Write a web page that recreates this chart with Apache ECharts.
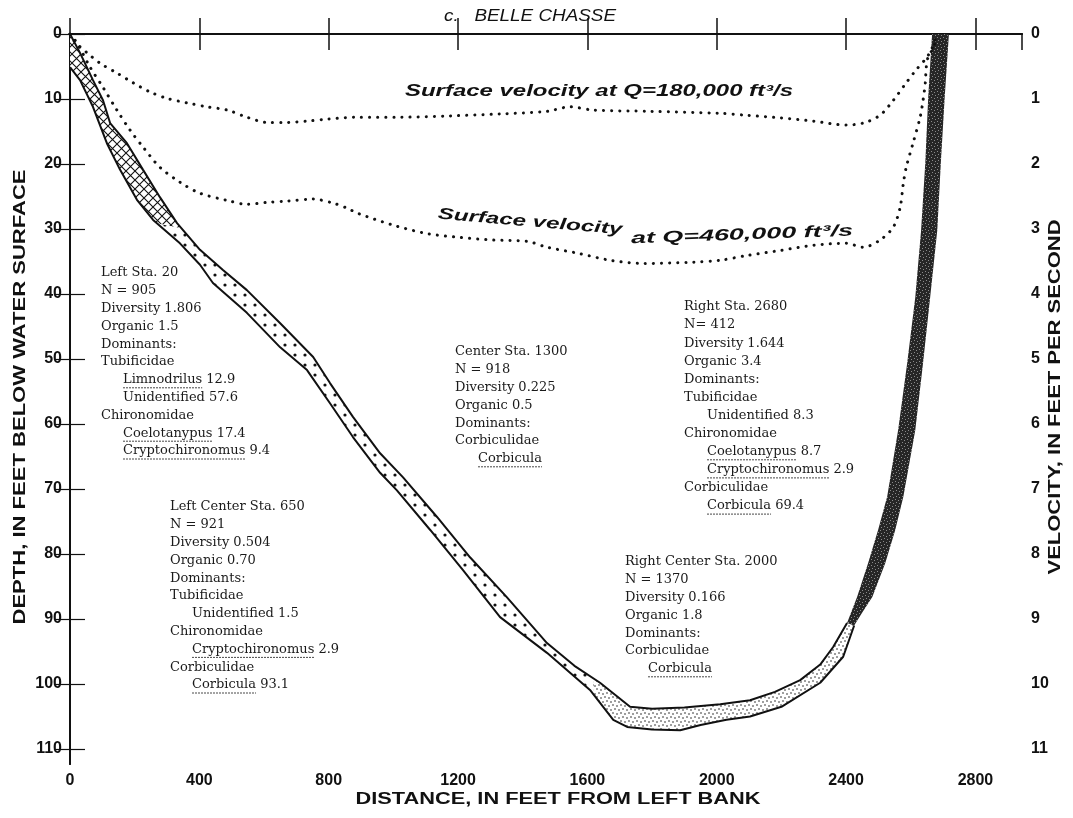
<!DOCTYPE html>
<html>
<head>
<meta charset="utf-8">
<script src="https://cdn.jsdelivr.net/npm/echarts@6/dist/echarts.min.js"></script>
<style>
  html, body { margin: 0; padding: 0; background: #fff; }
  #chart { width: 1073px; height: 818px; }
</style>
</head>
<body>
<div id="chart"></div>
<script>
// ---- Channel cross-section, Belle Chasse: distance (ft from left bank), depth (ft) ----
// Shallow edge of the sampled bottom layer
const bedUpper = [[0,0],[31,2.9],[71,7.1],[102,10.2],[124,13.7],[176,16.8],[226,20.9],[278,25.1],[331,29.1],[402,33.2],[473,36.3],[547,39.4],[650,44.5],[752,49.7],[804,53.7],[875,58.9],[959,64.5],[1030,68.2],[1135,74.3],[1237,80.5],[1350,86.6],[1475,93.7],[1560,97.2],[1639,99.8],[1732,103.5],[1800,103.8],[1900,103.6],[2011,103.1],[2103,102.5],[2180,101.2],[2258,99.4],[2320,97.0],[2360,94.3],[2403,90.6]];
// Deep edge of the sampled bottom layer
const bedLower = [[0,5.1],[31,7.1],[71,11.2],[114,16.8],[155,20.9],[207,25.5],[257,28.6],[340,32.2],[402,35.5],[442,38.3],[547,42.9],[650,48.2],[733,51.7],[804,56.8],[875,62.0],[959,67.5],[1011,70.2],[1114,76.3],[1216,82.5],[1330,89.7],[1475,95.2],[1608,100.9],[1680,105.5],[1723,106.6],[1800,107.0],[1887,107.1],[1950,106.3],[2030,105.5],[2103,105.0],[2200,103.5],[2320,99.8],[2391,95.8],[2425,91.0]];
// Right-bank layer (inner and outer edges)
const bankInner = [[2403,90.6],[2434,86.6],[2468,81.4],[2499,76.3],[2527,71.2],[2561,60.9],[2589,50.6],[2614,40.5],[2632,30.2],[2645,19.8],[2654,9.7],[2666,0]];
const bankOuter = [[2425,91.0],[2450,89.0],[2481,86.6],[2521,81.4],[2552,76.3],[2577,71.2],[2614,60.9],[2638,50.6],[2660,40.5],[2682,30.2],[2693,19.8],[2705,9.7],[2718,0]];
// Limits of the bottom-material zones along the section (ft)
const hatchEndUpper = 345, hatchEndLower = 270, stippleStart = 1620;

// ---- Surface velocity (ft/s) across the section ----
const vel180k = [[0,0],[15,0.12],[53,0.29],[93,0.45],[145,0.60],[195,0.75],[247,0.89],[300,0.99],[362,1.06],[424,1.12],[486,1.17],[547,1.28],[609,1.36],[671,1.36],[733,1.34],[795,1.31],[891,1.28],[1021,1.28],[1175,1.26],[1330,1.23],[1475,1.19],[1547,1.12],[1618,1.17],[1794,1.19],[2011,1.22],[2091,1.25],[2196,1.29],[2298,1.34],[2400,1.40],[2453,1.37],[2505,1.25],[2546,1.02],[2586,0.75],[2617,0.55],[2648,0.37],[2663,0.25],[2675,0.09]];
const vel460k = [[0,0],[22,0.14],[62,0.51],[102,0.82],[145,1.17],[186,1.48],[226,1.74],[278,2.05],[340,2.28],[402,2.45],[486,2.56],[547,2.62],[609,2.59],[671,2.57],[752,2.54],[813,2.60],[857,2.68],[891,2.76],[999,2.94],[1104,3.07],[1206,3.13],[1308,3.17],[1414,3.19],[1475,3.28],[1568,3.37],[1670,3.48],[1772,3.53],[1927,3.51],[2011,3.48],[2091,3.41],[2196,3.33],[2298,3.25],[2400,3.22],[2453,3.28],[2505,3.17],[2546,2.97],[2567,2.67],[2577,2.30],[2586,2.05],[2607,1.68],[2629,1.28],[2638,1.02],[2645,0.75],[2648,0.51],[2654,0.35],[2669,0.22],[2680,0.05]];

// ---- Axis ranges and ticks ----
const distMax = 2944, distStep = 400;
const depthMax = 112.3, depthStep = 10;
const velMax = 11.23, velStep = 1;

// ---- Texts ----
const titleText = 'c.   BELLE CHASSE';
const xName = 'DISTANCE, IN FEET FROM LEFT BANK';
const yLeftName = 'DEPTH, IN FEET BELOW WATER SURFACE';
const yRightName = 'VELOCITY, IN FEET PER SECOND';
const label180k = 'Surface velocity at Q=180,000 ft\u00B3/s';
const label460kA = 'Surface velocity';
const label460kB = 'at Q=460,000 ft\u00B3/s';

// Station notes: [text, level, underlined taxon]
const stationLeft = [
  ['Left Sta. 20',0],['N = 905',0],['Diversity 1.806',0],['Organic 1.5',0],['Dominants:',0],
  ['Tubificidae',0],['Limnodrilus 12.9',1,'Limnodrilus'],['Unidentified 57.6',1],
  ['Chironomidae',0],['Coelotanypus 17.4',1,'Coelotanypus'],['Cryptochironomus 9.4',1,'Cryptochironomus']
];
const stationLeftCenter = [
  ['Left Center Sta. 650',0],['N = 921',0],['Diversity 0.504',0],['Organic 0.70',0],['Dominants:',0],
  ['Tubificidae',0],['Unidentified 1.5',1],['Chironomidae',0],['Cryptochironomus 2.9',1,'Cryptochironomus'],
  ['Corbiculidae',0],['Corbicula 93.1',1,'Corbicula']
];
const stationCenter = [
  ['Center Sta. 1300',0],['N = 918',0],['Diversity 0.225',0],['Organic 0.5',0],['Dominants:',0],
  ['Corbiculidae',0],['Corbicula',1,'Corbicula']
];
const stationRight = [
  ['Right Sta. 2680',0],['N= 412',0],['Diversity 1.644',0],['Organic 3.4',0],['Dominants:',0],
  ['Tubificidae',0],['Unidentified 8.3',1],['Chironomidae',0],['Coelotanypus 8.7',1,'Coelotanypus'],
  ['Cryptochironomus 2.9',1,'Cryptochironomus'],['Corbiculidae',0],['Corbicula 69.4',1,'Corbicula']
];
const stationRightCenter = [
  ['Right Center Sta. 2000',0],['N = 1370',0],['Diversity 0.166',0],['Organic 1.8',0],['Dominants:',0],
  ['Corbiculidae',0],['Corbicula',1,'Corbicula']
];

// ---- Layout ----
const grid = { left: 70, right: 51, top: 34, bottom: 54 };
const noteFont = '13px "DejaVu Serif"';
const noteBlocks = [
  { lines: stationLeft,        x: 101, y: 273, lh: 17.8, indent: 22 },
  { lines: stationLeftCenter,  x: 170, y: 507, lh: 17.8, indent: 22 },
  { lines: stationCenter,      x: 455, y: 352, lh: 17.8, indent: 23 },
  { lines: stationRight,       x: 684, y: 307, lh: 18.1, indent: 23 },
  { lines: stationRightCenter, x: 625, y: 562, lh: 17.8, indent: 23 }
];

// ---- Helpers ----
const measureCtx = document.createElement('canvas').getContext('2d');
function textWidth(str, font) { measureCtx.font = font; return measureCtx.measureText(str).width; }

// Text stretched along its baseline to a given length
function stretchedText(str, font, cx, cy, targetW, rotation) {
  const w = textWidth(str, font);
  return {
    type: 'text', x: cx, y: cy, rotation: rotation || 0, scaleX: targetW / w, silent: true, z: 10,
    style: { text: str, font: font, fill: '#111', align: 'center', verticalAlign: 'middle' }
  };
}

// Part of a polyline between two distances, with interpolated end points
function sliceLine(line, x0, x1) {
  const lerp = (a, b, x) => [x, a[1] + (b[1] - a[1]) * (x - a[0]) / (b[0] - a[0])];
  const out = line.filter(p => p[0] >= x0 && p[0] <= x1);
  for (let i = 0; i < line.length - 1; i++) {
    const a = line[i], b = line[i + 1];
    if (a[0] < x0 && b[0] > x0) out.unshift(lerp(a, b, x0));
    if (a[0] < x1 && b[0] > x1) out.push(lerp(a, b, x1));
  }
  return out;
}
function bandPolygon(upper, lower) { return upper.concat(lower.slice().reverse()); }

function makePattern(size, draw) {
  const c = document.createElement('canvas');
  c.width = size; c.height = size;
  const g = c.getContext('2d');
  draw(g, size);
  return { type: 'pattern', image: c, repeat: 'repeat' };
}
const hatchFill = makePattern(9, (g, s) => {
  g.fillStyle = '#fff'; g.fillRect(0, 0, s, s);
  g.strokeStyle = '#111'; g.lineWidth = 1.1;
  g.beginPath(); g.moveTo(-1, -1); g.lineTo(s + 1, s + 1); g.moveTo(-1, s + 1); g.lineTo(s + 1, -1); g.stroke();
});
const sparseDotFill = makePattern(10, (g, s) => {
  g.fillStyle = '#fff'; g.fillRect(0, 0, s, s);
  g.fillStyle = '#111'; g.beginPath(); g.arc(5, 5, 1.6, 0, Math.PI * 2); g.fill();
});
const stippleFill = makePattern(8, (g, s) => {
  g.fillStyle = '#fff'; g.fillRect(0, 0, s, s);
  g.fillStyle = '#222';
  [[1,2],[5,1],[3,6],[7,5]].forEach(p => { g.beginPath(); g.arc(p[0], p[1], 0.8, 0, Math.PI * 2); g.fill(); });
});
const darkFill = makePattern(6, (g, s) => {
  g.fillStyle = '#262626'; g.fillRect(0, 0, s, s);
  g.fillStyle = '#8a8a8a';
  [[1,1],[4,2],[2,4],[5,5]].forEach(p => g.fillRect(p[0], p[1], 1, 1));
});

function bandSeries(name, poly, fill) {
  return {
    type: 'custom', name: name, coordinateSystem: 'cartesian2d', xAxisIndex: 0, yAxisIndex: 0,
    clip: false, silent: true, z: 1, data: [poly[0]],
    renderItem: (params, api) => ({
      type: 'polygon',
      shape: { points: poly.map(p => api.coord(p)) },
      style: { fill: fill, stroke: null }
    })
  };
}

// Bottom-material zones
const hatchPoly = bandPolygon(sliceLine(bedUpper, 0, hatchEndUpper), sliceLine(bedLower, 0, hatchEndLower));
const sparsePoly = bandPolygon(sliceLine(bedUpper, hatchEndUpper, stippleStart), sliceLine(bedLower, hatchEndLower, stippleStart));
const stipplePoly = bandPolygon(sliceLine(bedUpper, stippleStart, 3000), sliceLine(bedLower, stippleStart, 3000));
const bankPoly = bandPolygon(bankInner, bankOuter);

// ---- Graphic texts ----
const graphics = [];
graphics.push(stretchedText(titleText, 'italic 16px "Liberation Sans"', 530, 17, 172, 0));
graphics.push(stretchedText(xName, 'bold 16px "Liberation Sans"', 558, 800, 405, 0));
graphics.push(stretchedText(yLeftName, 'bold 16px "Liberation Sans"', 21, 397, 455, Math.PI / 2));
graphics.push(stretchedText(yRightName, 'bold 16px "Liberation Sans"', 1056, 397, 355, Math.PI / 2));
graphics.push(stretchedText(label180k, 'bold italic 16px "Liberation Sans"', 599, 92, 388, 0));
graphics.push(stretchedText(label460kA, 'bold italic 16px "Liberation Sans"', 530, 222, 185, -0.085));
graphics.push(stretchedText(label460kB, 'bold italic 16px "Liberation Sans"', 742, 235, 222, 0.035));

noteBlocks.forEach(b => {
  b.lines.forEach((ln, i) => {
    const x = b.x + (ln[1] ? b.indent : 0);
    const y = b.y + i * b.lh;
    graphics.push({ type: 'text', x: x, y: y, silent: true, z: 10,
      style: { text: ln[0], font: noteFont, fill: '#1a1a1a', align: 'left', verticalAlign: 'middle' } });
    if (ln[2]) {
      const w = textWidth(ln[2], noteFont);
      graphics.push({ type: 'line', silent: true, z: 10,
        shape: { x1: x, y1: y + 8, x2: x + w, y2: y + 8 },
        style: { stroke: '#333', lineWidth: 0.9, lineDash: [2, 1] } });
    }
  });
});

// ---- Chart ----
const axisFont = { fontFamily: 'Liberation Sans', fontWeight: 'bold', fontSize: 16, color: '#111' };
const axisLineStyle = { show: true, lineStyle: { color: '#111', width: 2 } };
const plainNumber = v => String(v);

const chart = echarts.init(document.getElementById('chart'), null, { renderer: 'canvas' });
chart.setOption({
  backgroundColor: '#fff',
  animation: false,
  grid: grid,
  xAxis: [
    { type: 'value', position: 'bottom', min: 0, max: distMax, interval: distStep,
      axisLine: axisLineStyle, splitLine: { show: false },
      axisTick: { inside: true, length: 16, lineStyle: { color: '#111', width: 1.5 } },
      axisLabel: Object.assign({ margin: 9, showMaxLabel: false, formatter: plainNumber }, axisFont) },
    { type: 'value', position: 'top', min: 0, max: distMax, interval: distStep,
      axisLine: axisLineStyle, splitLine: { show: false },
      axisTick: { inside: true, length: 16, lineStyle: { color: '#111', width: 1.5 } },
      axisLabel: { show: false } }
  ],
  yAxis: [
    { type: 'value', position: 'left', inverse: true, min: 0, max: depthMax, interval: depthStep,
      axisLine: axisLineStyle, splitLine: { show: false },
      axisTick: { inside: true, length: 15, lineStyle: { color: '#111', width: 1.2 } },
      axisLabel: Object.assign({ margin: 8, showMaxLabel: false, formatter: plainNumber }, axisFont) },
    { type: 'value', position: 'right', inverse: true, min: 0, max: velMax, interval: velStep,
      axisLine: axisLineStyle, splitLine: { show: false },
      axisTick: { inside: true, length: 15, lineStyle: { color: '#111', width: 1.2 } },
      axisLabel: Object.assign({ margin: 9, showMaxLabel: false, formatter: plainNumber }, axisFont) }
  ],
  series: [
    bandSeries('hatch', hatchPoly, hatchFill),
    bandSeries('dots', sparsePoly, sparseDotFill),
    bandSeries('stipple', stipplePoly, stippleFill),
    bandSeries('bank', bankPoly, darkFill),
    { type: 'line', name: 'bed upper', data: bedUpper, xAxisIndex: 0, yAxisIndex: 0, z: 3,
      symbol: 'none', silent: true, lineStyle: { color: '#111', width: 2 } },
    { type: 'line', name: 'bed lower', data: bedLower, xAxisIndex: 0, yAxisIndex: 0, z: 3,
      symbol: 'none', silent: true, lineStyle: { color: '#111', width: 2 } },
    { type: 'line', name: 'Q=180,000', data: vel180k, xAxisIndex: 0, yAxisIndex: 1, z: 3,
      symbol: 'none', silent: true, smooth: 0.3,
      lineStyle: { color: '#111', width: 3, type: [0.1, 8], cap: 'round' } },
    { type: 'line', name: 'Q=460,000', data: vel460k, xAxisIndex: 0, yAxisIndex: 1, z: 3,
      symbol: 'none', silent: true, smooth: 0.3,
      lineStyle: { color: '#111', width: 3, type: [0.1, 8], cap: 'round' } }
  ],
  graphic: graphics
});
</script>
</body>
</html>
